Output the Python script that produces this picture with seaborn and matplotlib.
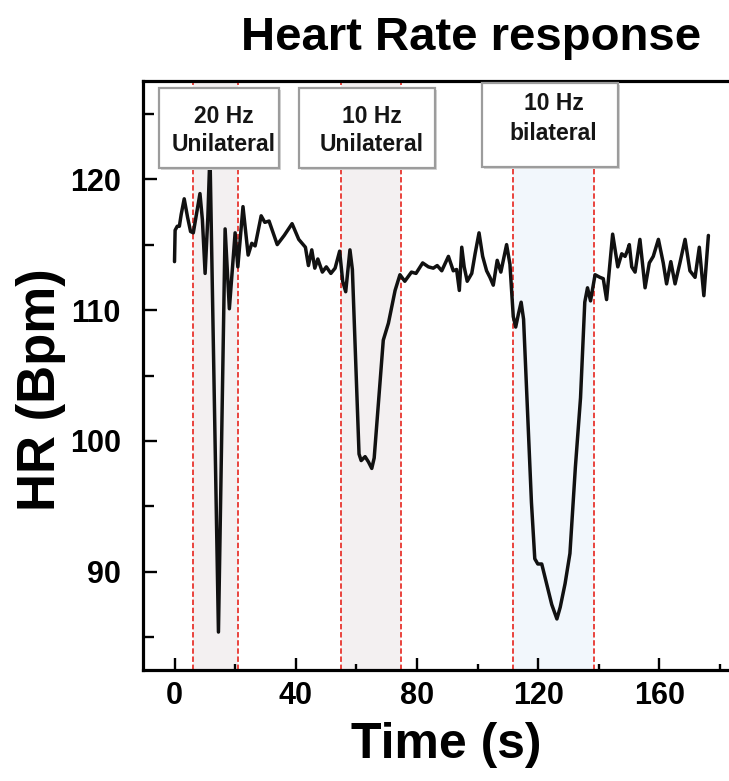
import matplotlib
matplotlib.use('Agg')
import matplotlib.pyplot as plt
import seaborn as sns
import pandas as pd
from matplotlib.patches import Rectangle
from matplotlib.ticker import MultipleLocator

# ---------------- data ----------------
time_s = [0.0, 0.2, 0.9, 1.6, 2.2, 3.2, 4.3, 5.3, 6.2, 7.3, 8.4, 9.2, 10.1, 11.0, 11.7,
          14.5, 16.7, 18.1, 20.0, 20.9, 22.6, 24.3, 25.5, 26.6, 28.6, 29.8, 31.2, 33.9,
          36.2, 38.8, 41.0, 43.2, 44.2, 45.3, 46.3, 47.3, 48.8, 50.1, 51.6, 53.0, 54.5,
          55.5, 56.5, 57.9, 58.7, 60.9, 61.6, 62.9, 64.0, 65.1, 65.9, 67.3, 68.9, 70.6,
          72.8, 74.4, 76.0, 78.2, 79.7, 81.9, 83.8, 85.4, 86.7, 88.2, 90.4, 92.0, 93.1,
          94.0, 94.8, 95.6, 96.6, 98.1, 99.2, 100.5, 101.7, 103.0, 104.1, 105.2, 106.5,
          107.7, 109.6, 110.7, 111.8, 112.6, 113.5, 114.4, 115.2, 116.5, 117.8, 118.9,
          119.9, 121.2, 122.8, 124.5, 126.2, 127.3, 128.9, 130.5, 132.3, 134.0, 135.4,
          136.3, 137.3, 138.8, 140.4, 141.5, 142.6, 144.6, 146.3, 147.6, 148.7, 149.4,
          150.1, 150.9, 152.0, 153.6, 155.3, 156.7, 158.0, 159.7, 161.3, 162.4, 163.8,
          165.2, 166.8, 168.5, 170.1, 171.8, 173.2, 174.7, 176.2]
hr_bpm = [113.7, 116.1, 116.4, 116.4, 117.3, 118.5, 117.1, 116.0, 115.9, 117.4, 118.9, 116.9,
          112.8, 117.1, 122.0, 85.4, 116.2, 110.1, 115.9, 113.3, 117.9, 114.2, 115.1, 114.9,
          117.2, 116.7, 116.8, 115.0, 115.7, 116.6, 115.4, 114.8, 113.4, 114.6, 113.2, 113.9,
          112.9, 113.3, 112.8, 113.2, 114.5, 112.2, 111.4, 114.6, 113.1, 99.0, 98.5, 98.8,
          98.4, 97.9, 98.7, 102.9, 107.7, 109.0, 111.5, 112.7, 112.2, 112.9, 112.8, 113.6,
          113.3, 113.2, 113.4, 113.0, 114.1, 113.0, 113.1, 111.5, 114.8, 113.3, 112.2, 112.8,
          114.3, 115.9, 114.1, 113.0, 112.5, 111.9, 113.8, 112.9, 115.0, 113.5, 109.5, 108.7,
          109.7, 110.6, 109.3, 102.3, 95.3, 91.0, 90.6, 90.6, 89.1, 87.5, 86.4, 87.3, 89.1,
          91.4, 98.0, 103.3, 110.6, 111.7, 110.7, 112.7, 112.5, 112.4, 110.8, 115.8, 113.3,
          114.3, 114.1, 114.5, 115.0, 113.3, 112.9, 115.4, 111.7, 113.6, 114.1, 115.4, 113.6,
          112.0, 113.7, 112.0, 113.6, 115.4, 113.0, 112.5, 114.8, 111.1, 115.7]

window_starts = [6.2, 55.0, 111.8]
window_ends = [20.9, 74.6, 138.5]
window_colors = ['#f3f0f1', '#f3f0f1', '#f2f7fc']
window_line1 = ['20 Hz', '10 Hz', '10 Hz']
window_line2 = ['Unilateral', 'Unilateral', 'bilateral']

x_ticks = [0, 40, 80, 120, 160]
y_ticks = [90, 100, 110, 120]

title_text = 'Heart Rate response'
x_label = 'Time (s)'
y_label = 'HR (Bpm)'

# ---------------- style ----------------
sns.set_style('ticks')
plt.rcParams['font.family'] = ['Liberation Sans', 'DejaVu Sans']
plt.rcParams['font.weight'] = 'bold'
for k in ['text.color', 'axes.labelcolor', 'xtick.color', 'ytick.color']:
    plt.rcParams[k] = 'black'

W, H = 729, 781
fig = plt.figure(figsize=(W / 100, H / 100), dpi=100)
fig.patch.set_facecolor('white')

ax_l, ax_r, ax_t, ax_b = 143, 729, 81, 670
ax = fig.add_axes([ax_l / W, 1 - ax_b / H, (ax_r - ax_l) / W, (ax_b - ax_t) / H])
ax.set_facecolor('white')

for a, b, c in zip(window_starts, window_ends, window_colors):
    ax.axvspan(a, b, color=c, lw=0, zorder=0)
    for v in (a, b):
        ax.axvline(v, color='#e8352f', lw=1.3, ls=(0, (3, 1.5)), zorder=1)

df = pd.DataFrame({'time': time_s, 'hr': hr_bpm})
sns.lineplot(data=df, x='time', y='hr', ax=ax, color='#111111', lw=2.5,
             estimator=None, sort=False, zorder=3)

ax.set_xlim(-10.4, 183.0)
ax.set_ylim(82.5, 127.5)
ax.set_xticks(x_ticks)
ax.set_yticks(y_ticks)
ax.xaxis.set_minor_locator(MultipleLocator(20))
ax.yaxis.set_minor_locator(MultipleLocator(5))

for s in ['left', 'bottom', 'top']:
    ax.spines[s].set_linewidth(2.3)
    ax.spines[s].set_color('black')
ax.spines['right'].set_visible(False)

ax.tick_params(axis='both', which='both', direction='in', width=1.7, color='black',
               labelcolor='black', labelsize=22, top=False, right=False)
ax.tick_params(axis='x', which='major', length=9, pad=8)
ax.tick_params(axis='x', which='minor', length=4.5)
ax.tick_params(axis='y', which='major', length=10, pad=16)
ax.tick_params(axis='y', which='minor', length=8)
for lbl in ax.get_xticklabels() + ax.get_yticklabels():
    lbl.set_fontweight('bold')

ax.set_xlabel(x_label, fontsize=36, fontweight='bold', color='black')
ax.set_ylabel(y_label, fontsize=38, fontweight='bold', color='black')
ax.xaxis.set_label_coords((446 - ax_l) / (ax_r - ax_l), (ax_b - 722) / (ax_b - ax_t))
ax.yaxis.set_label_coords((66 - ax_l) / (ax_r - ax_l), (ax_b - 390) / (ax_b - ax_t))

fig.text(471.5 / W, 1 - 50 / H, title_text, ha='center', va='baseline',
         fontsize=34, fontweight='bold', color='black')

# ---------------- stimulation label boxes ----------------
boxes = [(159, 88, 279, 168), (299, 88, 435, 168), (482, 83, 618, 167)]
text_x = [224, 372, 553.5]
base1 = [123, 123, 110.5]
base2 = [151, 151, 140]


def fx(px):
    return px / W


def fy(py):
    return 1 - py / H


for (x0, y0, x1, y1), tx, b1, b2, t1, t2 in zip(boxes, text_x, base1, base2,
                                                  window_line1, window_line2):
    shadow = Rectangle((fx(x0 + 2), fy(y1 + 2)), (x1 - x0) / W, (y1 - y0) / H,
                       transform=fig.transFigure, facecolor='#d6d6d6', edgecolor='none',
                       zorder=4)
    fig.add_artist(shadow)
    rect = Rectangle((fx(x0), fy(y1)), (x1 - x0) / W, (y1 - y0) / H,
                     transform=fig.transFigure, facecolor='white', edgecolor='#9c9c9c',
                     lw=1.6, zorder=5)
    fig.add_artist(rect)
    fig.text(fx(tx), fy(b1), t1, ha='center', va='baseline', fontsize=16.5,
             fontweight='bold', color='#151515', zorder=6)
    fig.text(fx(tx), fy(b2), t2, ha='center', va='baseline', fontsize=16.5,
             fontweight='bold', color='#151515', zorder=6)

fig.savefig('out.png', dpi=100, facecolor='white')
